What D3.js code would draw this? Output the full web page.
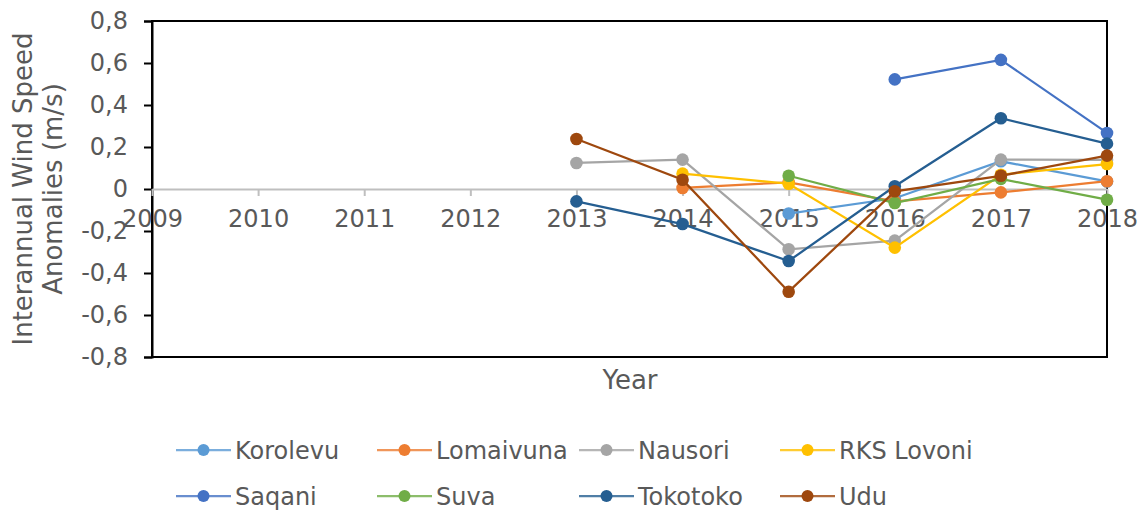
<!DOCTYPE html>
<html>
<head>
<meta charset="utf-8">
<script src="https://cdn.jsdelivr.net/npm/d3@7"></script>
<style>
  body { margin: 0; background: #fff; }
  svg { display: block; }
  text { font-family: "DejaVu Sans", Verdana, sans-serif; fill: #595959; }
</style>
</head>
<body>
<svg id="chart" width="1145" height="514"></svg>
<script>
// Data (null = no value that year)
var years = [2009, 2010, 2011, 2012, 2013, 2014, 2015, 2016, 2017, 2018];
var yTicks = [-0.8, -0.6, -0.4, -0.2, 0, 0.2, 0.4, 0.6, 0.8];

var korolevu  = [null, null, null, null, null,   null,   -0.117, -0.044, 0.132,  0.036];
var lomaivuna = [null, null, null, null, null,   0.005,  0.032,  -0.059, -0.016, 0.037];
var nausori   = [null, null, null, null, 0.124,  0.140,  -0.287, -0.246, 0.140,  0.139];
var rksLovoni = [null, null, null, null, null,   0.073,  0.025,  -0.279, 0.068,  0.119];
var saqani    = [null, null, null, null, null,   null,   null,   0.522,  0.615,  0.267];
var suva      = [null, null, null, null, null,   null,   0.063,  -0.067, 0.048,  -0.051];
var tokotoko  = [null, null, null, null, -0.059, -0.167, -0.343, 0.013,  0.337,  0.216];
var udu       = [null, null, null, null, 0.238,  0.044,  -0.489, -0.011, 0.063,  0.159];

var seriesNames  = ['Korolevu', 'Lomaivuna', 'Nausori', 'RKS Lovoni', 'Saqani', 'Suva', 'Tokotoko', 'Udu'];
var seriesValues = [korolevu, lomaivuna, nausori, rksLovoni, saqani, suva, tokotoko, udu];
var seriesColors = ['#5B9BD5', '#ED7D31', '#A5A5A5', '#FFC000', '#4472C4', '#70AD47', '#255E91', '#9E480E'];

var svg = d3.select('#chart');
// plot area bounds ("top" is taken by window.top)
var plotL = 152, plotR = 1107, plotT = 21, plotB = 357;

var x = d3.scalePoint().domain(years).range([plotL, plotR]);
var y = d3.scaleLinear().domain([-0.8, 0.8]).range([plotB, plotT]);

var loc = d3.formatLocale({decimal: ',', thousands: '.', grouping: [3], currency: ['', ''], minus: '-'});
var fmt = loc.format('.1f');

// plot area frame
svg.append('rect')
	.attr('x', plotL).attr('y', plotT)
	.attr('width', plotR - plotL).attr('height', plotB - plotT)
	.attr('fill', 'none').attr('stroke', '#000').attr('stroke-width', 2);

// y axis
var yAxis = svg.append('g')
	.attr('transform', 'translate(' + plotL + ',0)')
	.call(d3.axisLeft(y).tickValues(yTicks).tickSize(8).tickPadding(16)
		.tickFormat(function(d){ return d === 0 ? '0' : fmt(d); }));
yAxis.select('.domain').attr('stroke', '#000').attr('stroke-width', 2);
yAxis.selectAll('.tick line').attr('stroke', '#000').attr('stroke-width', 2);
yAxis.selectAll('text').attr('font-size', 24).attr('fill', '#595959')
	.attr('font-family', '"DejaVu Sans", Verdana, sans-serif');

// x axis at zero
var xAxis = svg.append('g')
	.attr('transform', 'translate(0,' + y(0) + ')')
	.call(d3.axisBottom(x).tickSize(7).tickPadding(14).tickSizeOuter(0));
xAxis.select('.domain').attr('stroke', '#BFBFBF').attr('stroke-width', 2);
xAxis.selectAll('.tick line').attr('stroke', '#BFBFBF').attr('stroke-width', 2);
xAxis.selectAll('text').attr('font-size', 24).attr('fill', '#595959')
	.attr('font-family', '"DejaVu Sans", Verdana, sans-serif');

// series
var line = d3.line()
	.defined(function(d){ return d !== null; })
	.x(function(d, i){ return x(years[i]); })
	.y(function(d){ return y(d); });

seriesValues.forEach(function(vals, s){
	var g = svg.append('g');
	g.append('path')
		.attr('d', line(vals))
		.attr('fill', 'none')
		.attr('stroke', seriesColors[s])
		.attr('stroke-width', 2.25);
	vals.forEach(function(v, i){
		if (v === null) return;
		g.append('circle')
			.attr('cx', x(years[i]))
			.attr('cy', y(v))
			.attr('r', 6.3)
			.attr('fill', seriesColors[s]);
	});
});

// axis titles
svg.append('text')
	.attr('x', 630).attr('y', 389)
	.attr('text-anchor', 'middle')
	.attr('font-size', 26)
	.text('Year');

var yTitle = svg.append('text')
	.attr('transform', 'translate(37,189) rotate(-90)')
	.attr('text-anchor', 'middle')
	.attr('font-size', 26);
yTitle.append('tspan').attr('x', 0).attr('dy', '-0.2em').text('Interannual Wind Speed');
yTitle.append('tspan').attr('x', 0).attr('dy', '1.15em').text('Anomalies (m/s)');

// legend
var legendX = [176, 377, 579, 780];
var legendY = [450, 496];
seriesNames.forEach(function(name, s){
	var lx = legendX[s % 4], ly = legendY[Math.floor(s / 4)];
	var lg = svg.append('g').attr('transform', 'translate(' + lx + ',' + ly + ')');
	lg.append('line')
		.attr('x1', 0).attr('x2', 55)
		.attr('stroke', seriesColors[s]).attr('stroke-width', 2.25)
		.attr('opacity', 0.8);
	lg.append('circle').attr('cx', 27.5).attr('r', 6).attr('fill', seriesColors[s]);
	lg.append('text')
		.attr('x', 59).attr('y', 0).attr('dy', '0.36em')
		.attr('font-size', 24)
		.text(name);
});
</script>
</body>
</html>
